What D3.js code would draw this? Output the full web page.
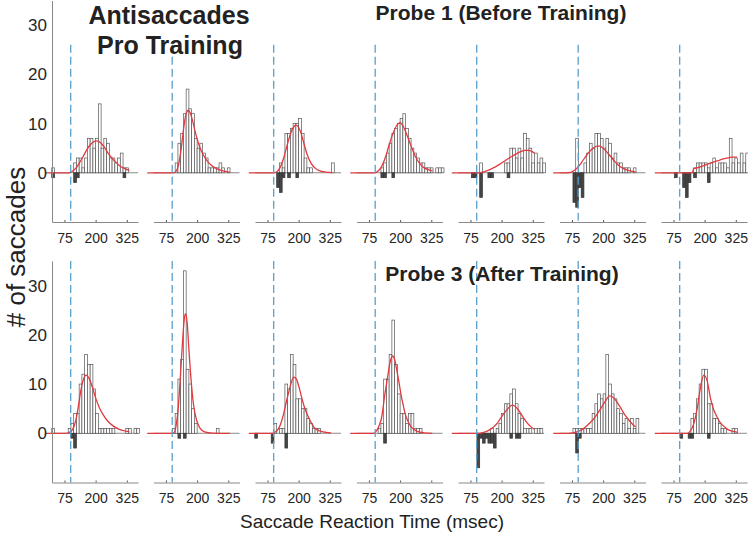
<!DOCTYPE html>
<html>
<head>
<meta charset="utf-8">
<script src="https://cdn.jsdelivr.net/npm/d3@7"></script>
<style>
  body { margin: 0; background: #fff; }
  svg { display: block; font-family: "Liberation Sans", Arial, Helvetica, sans-serif; }
</style>
</head>
<body>
<script>
// histogram bins (ms)
var binStart = 24;
var binWidth = 11;
var xDomain = [25, 370];
var yDomain = [-10, 35];
var xTicks = [75, 200, 325];
var yTicks = [0, 10, 20, 30];
var cueTime = 100;

// Probe 1 (before training): correct saccades per bin, one array per subject
var probe1Correct = [
  [1,0,0,0,0,0,0,0, 2,3,3,1,3,7,7,5, 7,14,5,7,6,3,3,2, 3,4,1,1,0,0,0,0],
  [0,0,0,0,0,0,0,0, 2,6,8,12,17,13,12,7, 5,6,4,3,1,1,1,1, 2,1,0,1,0,0,0,0],
  [0,0,0,0,0,0,0,0, 0,2,1,8,8,9,10,10, 11,8,3,1,1,0,0,0, 0,0,0,0,2,0,0,0],
  [0,0,0,0,0,0,0,0, 0,1,2,4,6,8,9,10, 11,12,9,7,5,4,3,2, 2,1,1,1,0,1,1,1],
  [0,0,0,0,0,0,0,0, 2,0,0,0,0,0,0,0, 0,2,2,5,5,3,5,3, 8,7,5,2,4,2,3,2],
  [0,0,0,0,0,0,7,0, 0,2,4,6,5,8,8,7, 5,7,6,3,4,2,2,1, 1,1,0,1,0,0,0,0],
  [0,0,0,0,0,0,0,0, 0,0,0,0,1,2,2,2, 2,1,2,3,1,2,2,2, 1,7,2,3,2,4,2,4]
];
// Probe 1: direction errors per bin (drawn below zero)
var probe1Errors = [
  [1,0,0,0,0,0,0,0, 2,1,0,0,0,0,0,0, 0,0,0,0,0,0,0,0, 0,0,1,0,0,0,0,0],
  [0,0,0,0,0,0,0,0, 0,0,0,0,0,0,0,0, 0,0,0,0,0,0,0,0, 0,0,0,0,0,0,0,0],
  [0,0,0,0,0,0,0,0, 3,4,1,0,1,0,0,1, 0,0,0,0,0,0,0,0, 0,0,0,0,0,0,0,0],
  [0,0,0,0,0,0,0,0, 0,1,1,0,0,1,0,0, 0,0,0,0,0,0,0,0, 0,0,0,0,0,0,0,0],
  [0,0,0,0,0,1,1,0, 5,0,0,1,1,0,0,0, 0,0,1,0,0,0,0,0, 0,0,0,0,0,0,0,0],
  [0,0,0,0,0,6,7,3, 5,0,0,0,0,0,0,0, 0,0,0,0,0,0,0,0, 0,0,0,0,0,0,0,0],
  [0,0,0,0,0,1,0,0, 3,5,2,0,1,0,0,0, 0,2,0,0,0,0,0,0, 0,0,0,0,0,0,0,0]
];
// Probe 1: fitted curve, [ms, count]
var probe1Fit = [
  [[0,0],[90,0],[100,0.1],[112,0.5],[125,1.2],[135,2],[150,3.3],[165,4.7],[180,5.8],[195,6.4],[205,6.5],[220,6.1],[235,5.2],[250,4],[265,3],[280,2.2],[295,1.5],[315,0.9],[336,0.5]],
  [[0,0],[105,0],[115,0.3],[125,1.5],[135,4.5],[143,7.8],[150,10.5],[158,12.3],[165,12.7],[172,12.2],[182,10.5],[195,7.8],[210,5.3],[225,3.6],[245,2.1],[265,1.2],[290,0.6],[332,0.1]],
  [[0,0],[100,0],[112,0.2],[125,1],[140,3],[155,5.8],[170,8.3],[180,9.3],[190,9.7],[200,9.2],[210,8],[222,5.8],[235,3.6],[250,1.9],[265,1],[285,0.4],[310,0.15],[335,0.05]],
  [[0,0],[100,0],[110,0.3],[125,1.2],[140,3],[155,5.5],[170,7.8],[185,9.5],[200,10.2],[212,9.5],[225,8],[240,6],[255,4],[270,2.5],[285,1.5],[300,0.9],[315,0.6],[330,0.4]],
  [[0,0],[110,0],[125,0.15],[140,0.4],[155,0.7],[175,1.2],[195,1.8],[215,2.5],[237,3.2],[257,3.8],[277,4.3],[295,4.55],[310,4.55],[322,4.3],[332,4]],
  [[0,0],[50,0],[70,0.1],[85,0.5],[100,1.2],[115,2.2],[130,3.3],[145,4.3],[160,5],[175,5.4],[185,5.4],[200,5],[215,4.2],[230,3.3],[245,2.4],[260,1.6],[280,0.9],[300,0.5],[330,0.2]],
  [[0,0],[150,0],[156,0.8],[170,1],[200,1.5],[225,2],[250,2.4],[275,2.8],[300,3.1],[315,3.2],[330,3.2]]
];

// Probe 3 (after training)
var probe3Correct = [
  [1,0,0,0,0,0,1,2, 4,4,10,12,16,14,14,9, 4,1,1,1,1,1,1,0, 0,0,0,1,1,0,1,1],
  [0,0,0,0,0,0,0,1, 4,11,15,33,13,10,5,2, 0,0,0,0,0,0,0,1, 0,0,0,0,0,0,0,0],
  [0,0,0,0,0,0,0,2, 0,1,1,10,9,16,14,7, 7,5,5,3,2,1,1,1, 0,0,0,0,0,0,0,0],
  [0,0,0,0,0,0,0,0, 1,2,11,11,16,23,14,8, 4,4,2,4,4,1,1,1, 0,0,0,0,0,0,0,0],
  [0,0,0,0,0,0,0,0, 0,0,0,0,1,0,1,2, 4,6,6,8,9,6,4,3, 1,1,1,0,1,1,1,0],
  [0,0,0,0,0,1,1,1, 1,1,1,1,4,6,8,7, 8,16,10,8,7,5,4,2, 3,1,3,1,3,0,0,0],
  [0,0,0,0,0,0,0,0, 0,0,0,3,4,7,10,13, 13,6,6,3,3,2,1,1, 0,0,1,1,0,0,0,0]
];
var probe3Errors = [
  [0,0,0,0,0,0,0,1, 3,0,0,0,0,0,0,0, 0,0,0,0,0,0,0,0, 0,0,0,0,0,0,0,0],
  [0,0,0,0,0,0,0,0, 0,1,0,1,0,0,0,0, 0,0,0,0,0,0,0,0, 0,0,0,0,0,0,0,0],
  [1,0,0,0,0,0,2,0, 0,0,0,3,0,0,0,0, 0,0,0,0,0,0,0,0, 0,0,0,0,0,0,0,0],
  [0,0,0,0,0,0,0,0, 0,0,2,0,0,0,0,0, 0,0,0,0,0,0,0,0, 0,0,0,0,0,0,0,0],
  [0,0,0,0,0,0,0,7, 1,2,1,2,2,3,0,0, 0,0,0,1,0,1,1,0, 0,0,0,0,0,0,0,0],
  [0,0,0,0,0,0,4,1, 0,0,0,0,0,0,0,0, 0,0,0,0,0,0,0,0, 0,0,0,0,0,0,0,0],
  [0,0,0,0,0,0,0,1, 0,0,1,1,0,0,0,0, 0,1,0,0,0,0,0,0, 0,0,0,0,0,0,0,0]
];
var probe3Fit = [
  [[0,0],[80,0],[95,0.2],[108,0.8],[120,2.5],[130,5.2],[140,8.5],[150,10.8],[163,11.8],[175,11],[188,9.2],[200,7.2],[215,5.2],[230,3.8],[250,2.4],[270,1.5],[295,0.8],[320,0.45],[336,0.3]],
  [[0,0],[100,0],[110,0.3],[117,2],[124,5],[131,10],[142,19],[148,23],[153,24.3],[160,22.5],[167,17],[174,12],[185,6],[199,2.5],[212,1],[230,0.3],[260,0.05],[332,0]],
  [[0,0],[95,0],[105,0.2],[120,1],[130,2.2],[140,4],[150,6.2],[161,8.5],[171,10.4],[181,11.4],[191,11],[201,9.5],[211,7.5],[222,5.5],[232,4.1],[242,3],[252,2],[262,1.2],[275,0.7],[290,0.4],[310,0.2],[330,0.1]],
  [[0,0],[95,0],[105,0.5],[115,1.5],[125,3],[139,8],[150,11.5],[160,14.5],[170,15.7],[178,15],[186,13],[195,10.5],[203,8],[212,5.8],[220,4],[230,2.6],[241,1.5],[255,0.8],[268,0.4],[295,0.1],[329,0]],
  [[0,0],[110,0],[128,0.2],[140,0.4],[155,0.8],[170,1.4],[182,2],[195,3],[209,4],[225,5],[243,5.7],[260,5.2],[277,4],[290,3],[304,2],[318,1.3],[331,0.8]],
  [[0,0],[60,0],[80,0.1],[100,0.4],[120,0.9],[140,1.8],[160,2.8],[180,4.2],[200,5.8],[215,7],[225,7.6],[240,7.3],[255,6.4],[270,5.2],[285,3.9],[300,2.9],[315,2],[330,1.3]],
  [[0,0],[130,0],[143,0.5],[157,2],[170,5],[184,9.5],[197,11.8],[211,10.5],[224,7],[235,5],[245,3.8],[255,2.8],[265,2],[280,1.3],[292,0.8],[310,0.45],[333,0.2]]
];

function init() {
    var w = 748;
    var h = 539;

    var svg = d3.select("body")
        .append("svg")
        .attr("width", w)
        .attr("height", h);

    // panel layout
    var left = 52, step = 101.5, pw = 86;
    var axisColor = "#8a8a8a";

    var rows = [
        { correct: probe1Correct, errors: probe1Errors, fit: probe1Fit, top: 0.5, bottom: 222, cueTop: 26 },
        { correct: probe3Correct, errors: probe3Errors, fit: probe3Fit, top: 261, bottom: 482.5, cueTop: 35 }
    ];

    rows.forEach(function(row) {
        var y = d3.scaleLinear().domain(yDomain).range([row.bottom, row.top]);

        row.correct.forEach(function(counts, k) {
            var x0 = left + k * step;
            var x = d3.scaleLinear().domain(xDomain).range([x0, x0 + pw]);
            var g = svg.append("g");

            // zero line
            g.append("line")
                .attr("x1", x0).attr("x2", x0 + pw)
                .attr("y1", y(0)).attr("y2", y(0))
                .attr("stroke", axisColor)
                .attr("stroke-width", 1);

            var pos = counts.map(function(n, i) { return { i: i, n: n }; })
                .filter(function(d) { return d.n > 0; });
            var neg = row.errors[k].map(function(n, i) { return { i: i, n: n }; })
                .filter(function(d) { return d.n > 0; });

            // correct saccades: open bars above zero
            g.selectAll("rect.pos")
                .data(pos)
                .enter()
                .append("rect")
                .attr("class", "pos")
                .attr("x", function(d) { return x(binStart + d.i * binWidth); })
                .attr("width", function(d) { return x(binStart + (d.i + 1) * binWidth) - x(binStart + d.i * binWidth); })
                .attr("y", function(d) { return y(d.n); })
                .attr("height", function(d) { return y(0) - y(d.n); })
                .attr("fill", "white")
                .attr("stroke", "#555")
                .attr("stroke-width", 0.7);

            // errors: dark bars below zero
            g.selectAll("rect.neg")
                .data(neg)
                .enter()
                .append("rect")
                .attr("class", "neg")
                .attr("x", function(d) { return x(binStart + d.i * binWidth); })
                .attr("width", function(d) { return x(binStart + (d.i + 1) * binWidth) - x(binStart + d.i * binWidth); })
                .attr("y", y(0))
                .attr("height", function(d) { return y(-d.n) - y(0); })
                .attr("fill", "#454545")
                .attr("stroke", "#333")
                .attr("stroke-width", 0.7);

            // fitted curve
            var line = d3.line()
                .x(function(d) { return x(d[0]); })
                .y(function(d) { return y(d[1]); })
                .curve(d3.curveMonotoneX);
            g.append("path")
                .attr("d", line(row.fit[k]))
                .attr("fill", "none")
                .attr("stroke", "#e03a3e")
                .attr("stroke-width", 1.3);

            // cue line
            g.append("line")
                .attr("x1", x(cueTime)).attr("x2", x(cueTime))
                .attr("y1", y(row.cueTop)).attr("y2", y(yDomain[0]))
                .attr("stroke", "#5a9fcc")
                .attr("stroke-width", 1.3)
                .attr("stroke-dasharray", "8,4");

            // x axis
            var xAxis = d3.axisBottom(x)
                .tickValues(xTicks)
                .tickSize(-2)
                .tickSizeOuter(0)
                .tickPadding(11);
            var ax = g.append("g")
                .attr("transform", "translate(0," + y(yDomain[0]) + ")")
                .call(xAxis);
            ax.select(".domain").attr("stroke", axisColor);
            ax.selectAll(".tick line").attr("stroke", "#555");
            ax.selectAll(".tick text")
                .attr("font-size", 14)
                .attr("font-family", "Liberation Sans, Arial, sans-serif")
                .attr("fill", "#262626");

            // y axis only on the first panel
            if (k === 0) {
                var yAxis = d3.axisLeft(y)
                    .tickValues(yTicks)
                    .tickSize(0)
                    .tickSizeOuter(0)
                    .tickPadding(5);
                var ay = g.append("g")
                    .attr("transform", "translate(" + x0 + ",0)")
                    .call(yAxis);
                ay.select(".domain").attr("stroke", axisColor);
                ay.selectAll(".tick text")
                    .attr("font-size", 17)
                    .attr("font-family", "Liberation Sans, Arial, sans-serif")
                    .attr("fill", "#262626");
            }
        });
    });

    // titles
    svg.append("text").attr("x", 169).attr("y", 24)
        .attr("text-anchor", "middle").attr("font-size", 25).attr("font-weight", "bold")
        .attr("fill", "#222").text("Antisaccades");
    svg.append("text").attr("x", 170).attr("y", 54)
        .attr("text-anchor", "middle").attr("font-size", 25).attr("font-weight", "bold")
        .attr("fill", "#222").text("Pro Training");
    svg.append("text").attr("x", 501).attr("y", 20)
        .attr("text-anchor", "middle").attr("font-size", 21).attr("font-weight", "bold")
        .attr("fill", "#222").text("Probe 1 (Before Training)");
    svg.append("text").attr("x", 502).attr("y", 281)
        .attr("text-anchor", "middle").attr("font-size", 21).attr("font-weight", "bold")
        .attr("fill", "#222").text("Probe 3 (After Training)");

    // axis labels
    svg.append("text")
        .attr("transform", "translate(25,247) rotate(-90)")
        .attr("text-anchor", "middle").attr("font-size", 26)
        .attr("fill", "#222").text("# of saccades");
    svg.append("text").attr("x", 372).attr("y", 528)
        .attr("text-anchor", "middle").attr("font-size", 19)
        .attr("fill", "#222").text("Saccade Reaction Time (msec)");
}
window.onload = init;
</script>
</body>
</html>
